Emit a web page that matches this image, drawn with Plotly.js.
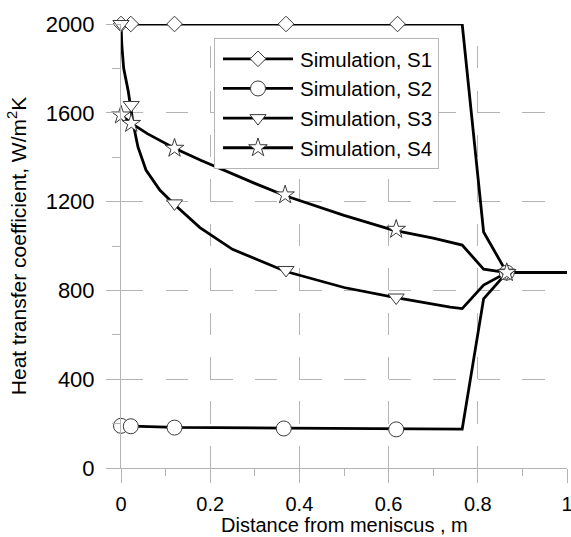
<!DOCTYPE html>
<html>
<head>
<meta charset="utf-8">
<script src="https://cdn.plot.ly/plotly-3.0.1.min.js"></script>
<style>html,body{margin:0;padding:0;background:#fff;}#chart{width:571px;height:537px;}</style>
</head>
<body>
<div id="chart"></div>
<script>
// Simulated curves (distance from meniscus, m ; heat transfer coefficient, W/m2K)
var s1LineX = [0, 0.765, 0.813, 0.865, 1];
var s1LineY = [2000, 2000, 1063, 880, 880];
var s2LineX = [0.005, 0.12, 0.37, 0.62, 0.765, 0.813, 0.865, 1];
var s2LineY = [190, 183, 180, 177, 175, 762, 880, 880];
var s3LineX = [0, 0.002, 0.006, 0.016, 0.027, 0.038, 0.056, 0.087, 0.121, 0.177, 0.25, 0.37, 0.5, 0.61, 0.738, 0.765, 0.813, 0.865, 1];
var s3LineY = [2000, 1900, 1800, 1700, 1554, 1446, 1342, 1252, 1185, 1083, 985, 885, 813, 770, 725, 718, 824, 880, 880];
var s4LineX = [0, 0.025, 0.06, 0.12, 0.18, 0.244, 0.3, 0.37, 0.45, 0.5, 0.61, 0.7, 0.765, 0.813, 0.865, 1];
var s4LineY = [1590, 1550, 1505, 1440, 1385, 1329, 1282, 1225, 1170, 1138, 1072, 1035, 1004, 896, 880, 880];

// Marker points
var s1MarkX = [0, 0.022, 0.12, 0.37, 0.62, 0.865];
var s1MarkY = [2000, 2000, 2000, 2000, 2000, 880];
var s2MarkX = [0, 0.022, 0.12, 0.365, 0.617, 0.865];
var s2MarkY = [190, 188, 182, 178, 174, 880];
var s3MarkX = [0, 0.023, 0.12, 0.37, 0.617, 0.865];
var s3MarkY = [2000, 1635, 1192, 892, 768, 880];
var s4MarkX = [0, 0.023, 0.12, 0.368, 0.617, 0.865];
var s4MarkY = [1590, 1552, 1440, 1230, 1075, 880];

var seriesNames = ['Simulation, S1', 'Simulation, S2', 'Simulation, S3', 'Simulation, S4'];
var xTicks = [0, 0.2, 0.4, 0.6, 0.8, 1];
var xTickText = ['0', '0.2', '0.4', '0.6', '0.8', '1'];
var yTicks = [0, 400, 800, 1200, 1600, 2000];
var yTickText = ['0', '400', '800', '1200', '1600', '2000'];
var xTitle = 'Distance from meniscus , m';
var yTitle = 'Heat transfer coefficient, W/m<sup>2</sup>K';

var symbols = ['diamond', 'circle', 'triangle-down', 'star'];
var sizes = [12, 15, 14, 14];
var lineXs = [s1LineX, s2LineX, s3LineX, s4LineX];
var lineYs = [s1LineY, s2LineY, s3LineY, s4LineY];
var markXs = [s1MarkX, s2MarkX, s3MarkX, s4MarkX];
var markYs = [s1MarkY, s2MarkY, s3MarkY, s4MarkY];

var lineW = 2.8;
var markerStyle = function (i) {
  return {symbol: symbols[i], size: sizes[i], color: '#ffffff', line: {color: '#3a3a3a', width: 1}};
};

var traces = [];
for (var i = 0; i < 4; i++) {
  traces.push({x: lineXs[i], y: lineYs[i], type: 'scatter', mode: 'lines',
    line: {color: '#000', width: lineW}, showlegend: false, cliponaxis: false, hoverinfo: 'skip'});
}
for (var j = 0; j < 4; j++) {
  traces.push({x: markXs[j], y: markYs[j], type: 'scatter', mode: 'markers',
    marker: markerStyle(j), showlegend: false, cliponaxis: false});
}
for (var k = 0; k < 4; k++) {
  traces.push({x: [null], y: [null], type: 'scatter', mode: 'lines+markers', name: seriesNames[k],
    line: {color: '#000', width: lineW}, marker: markerStyle(k), showlegend: true});
}

var fam = 'Arial, "Liberation Sans", sans-serif';
var gridCol = '#b4b4b4';

var layout = {
  width: 571, height: 537,
  margin: {l: 121, r: 4, t: 24, b: 69, pad: 0},
  paper_bgcolor: '#fff', plot_bgcolor: '#fff',
  font: {family: fam, size: 21, color: '#000'},
  showlegend: true,
  legend: {
    x: 0.2085, y: 0.9685, xanchor: 'left', yanchor: 'top',
    bgcolor: '#fff', bordercolor: '#b4b4b4', borderwidth: 1,
    font: {family: fam, size: 20.5, color: '#000'},
    itemwidth: 75, tracegroupgap: 0
  },
  xaxis: {
    range: [0, 1], tickvals: xTicks, ticktext: xTickText,
    showline: true, linecolor: gridCol, linewidth: 1, zeroline: false,
    ticks: 'outside', ticklen: 14, tickcolor: gridCol, tickwidth: 1,
    showgrid: true, gridcolor: gridCol, gridwidth: 1, griddash: '0px,22.2px,22.2px,0px',
    minor: {dtick: 0.1, tick0: 0, ticks: 'outside', ticklen: 7, tickcolor: gridCol, tickwidth: 1, showgrid: false},
    tickfont: {family: fam, size: 20, color: '#000'},
    ticklabelstandoff: 4,
    ticklabeloverflow: 'allow',
    automargin: false
  },
  yaxis: {
    range: [0, 2000], tickvals: yTicks, ticktext: yTickText,
    showline: true, linecolor: gridCol, linewidth: 1, zeroline: false,
    ticks: 'outside', ticklen: 14, tickcolor: gridCol, tickwidth: 1,
    showgrid: true, gridcolor: gridCol, gridwidth: 1, griddash: '22.3px,22.3px',
    minor: {dtick: 200, tick0: 0, ticks: 'outside', ticklen: 8, tickcolor: gridCol, tickwidth: 1, showgrid: false},
    tickfont: {family: fam, size: 22, color: '#000'},
    ticklabelstandoff: 7,
    title: {text: yTitle, font: {family: fam, size: 21, color: '#000'}, standoff: 13},
    automargin: true
  },
  annotations: [{
    text: xTitle, xref: 'paper', yref: 'paper', x: 0.5, y: 0,
    xanchor: 'center', yanchor: 'bottom', yshift: -69, showarrow: false, borderpad: 0,
    font: {family: fam, size: 20, color: '#000'}
  }]
};

Plotly.newPlot('chart', traces, layout, {staticPlot: true, displayModeBar: false}).then(function (gd) {
  // lengthen the legend symbol lines to match the reference's long legend keys
  var lines = gd.querySelectorAll('.legend .legendlines path');
  for (var a = 0; a < lines.length; a++) lines[a].setAttribute('d', 'M8,0h70');
  var pts = gd.querySelectorAll('.legend .legendpoints path.scatterpts');
  for (var b = 0; b < pts.length; b++) pts[b].setAttribute('transform', 'translate(43,0)');
});
</script>
</body>
</html>
